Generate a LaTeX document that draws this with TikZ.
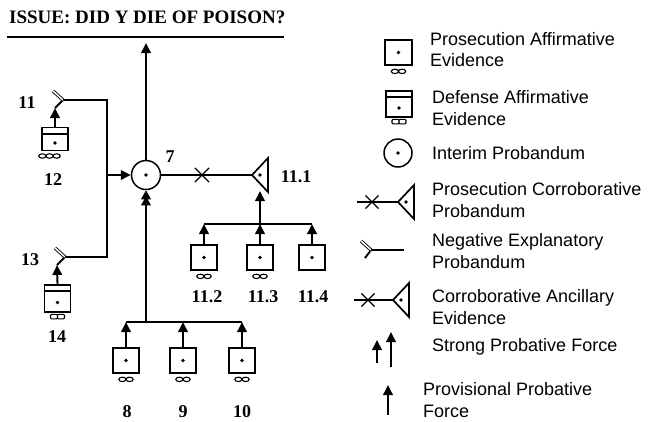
\documentclass[tikz,border=0pt]{standalone}
\usepackage{fontspec}
\setmainfont{Liberation Serif}
\newfontfamily\legfont{Liberation Sans}
\usetikzlibrary{arrows.meta,shapes.misc}
\newcommand\evdot[1]{\fill (#1) circle[radius=1.8pt];}
\newcommand\pfeet[1]{\draw[fineline] ([xshift=-3.6pt,yshift=-5.5pt]#1.south) ellipse[x radius=3.6pt,y radius=2.2pt] ([xshift=3.6pt,yshift=-5.5pt]#1.south) ellipse[x radius=3.6pt,y radius=2.2pt];}
\newcommand\dfeet[1]{\draw[fineline,rounded corners=1pt] ([xshift=-7pt,yshift=-1.5pt]#1.south) rectangle ([xshift=0pt,yshift=-6pt]#1.south) ([xshift=0pt,yshift=-1.5pt]#1.south) rectangle ([xshift=7pt,yshift=-6pt]#1.south);}
\newcommand\dband[1]{\draw[boxline] ([yshift=-7pt]#1.north west) -- ([yshift=-7pt]#1.north east); \fill ([yshift=-4pt]#1.center) circle[radius=1.8pt];}
\newcommand\corrtri[1]{\draw[boxline,line join=miter] (#1) -- ++(16,-17) -- ++(0,34) -- cycle; \fill ([xshift=8pt]#1) circle[radius=1.8pt];}
\newcommand\negsym[2]{\draw[conn] (#1) -- (#2); \draw[line width=0.9pt,double,double distance=1.5pt] (#1) -- ++(-10,-9);}
\begin{document}
\begin{tikzpicture}[x=1pt,y=-1pt,
  conn/.style={line width=1.9pt},
  boxline/.style={line width=1.7pt},
  fineline/.style={line width=1.1pt},
  arr/.style={conn,-{Triangle[length=10pt,width=9.5pt]}},
  sarr/.style={conn,-{Triangle[length=9pt,width=9.5pt,sep=-3pt]Triangle[length=9pt,width=9.5pt]}},
  evbox/.style={draw,boxline,minimum width=26pt,minimum height=25pt,inner sep=0pt},
  probcirc/.style={draw,circle,line width=1.5pt,minimum size=29pt,inner sep=0pt},
  xmark/.style={draw,cross out,line width=1.2pt,minimum width=13pt,minimum height=13pt,inner sep=0pt},
  num/.style={font=\fontsize{18}{18}\selectfont\bfseries,inner sep=0pt},
  leg/.style={font=\legfont\fontsize{18}{21.5}\selectfont,align=left,anchor=west,inner sep=0pt}
]
\useasboundingbox (0,0) rectangle (650,421);
\fill[white] (0,0) rectangle (650,421);

% title
\node[num,anchor=west,font=\fontsize{19}{19}\selectfont\bfseries] (title) at (9,17) {ISSUE: DID Y DIE OF POISON?};
\coordinate (tl) at (7,37);
\coordinate (tr) at (284,37);
\draw[conn] (tl) -- (tr);

% interim probandum 7
\node[probcirc] (c7) at (146,175) {};
\evdot{c7.center}
\node[num] (l7) at (170,157) {7};
\coordinate (top) at (146,43);
\draw[arr] (c7.north) -- (top);

% 11.1 corroborative
\coordinate (t111) at (252,175);
\corrtri{t111}
\node[num] (l111) at (296,177) {11.1};
\draw[conn] (c7.east) -- (t111);
\node[xmark] (x7) at (202,175) {};

% left side: 11, 13
\coordinate (n11) at (63,100);
\coordinate (n11l) at (55,108);
\negsym{n11}{n11l}
\coordinate (n13) at (65,257);
\coordinate (n13l) at (57,265);
\negsym{n13}{n13l}
\coordinate (c11) at (107,100);
\coordinate (c13) at (107,257);
\coordinate (jl) at (107,175);
\draw[conn] (n11) -- (c11) -- (c13) -- (n13);
\draw[arr] (jl) -- (c7.west);
\node[num] (l11) at (27,103) {11};
\node[num] (l13) at (30,260) {13};

% 12, 14 defense
\node[evbox,minimum height=23pt] (b12) at (55,139) {};
\dband{b12}
\draw[fineline] (49.5,156) ellipse[x radius=3.6pt,y radius=2.2pt] (42.3,156) ellipse[x radius=3.6pt,y radius=2.2pt] (56.7,156) ellipse[x radius=3.6pt,y radius=2.2pt];
\draw[arr] (b12.north) -- (n11l);
\node[num] (l12) at (53,180) {12};

\node[evbox,minimum height=27pt] (b14) at (57.5,298.5) {};
\dband{b14}
\dfeet{b14}
\draw[arr] (b14.north) -- (n13l);
\node[num] (l14) at (57,337) {14};

% 8, 9, 10
\coordinate (jm) at (146,322);
\coordinate (j8) at (126,322);
\coordinate (j9) at (183,322);
\coordinate (j10) at (242,322);
\draw[conn] (j8) -- (j10);
\draw[sarr] (jm) -- (c7.south);
\node[evbox] (b8) at (126,360.5) {};
\node[evbox] (b9) at (183,360.5) {};
\node[evbox] (b10) at (242,360.5) {};
\foreach \b/\j in {b8/j8,b9/j9,b10/j10}{
  \evdot{\b.center}
  \pfeet{\b}
  \draw[arr] (\b.north) -- (\j);
}
\node[num] (l8) at (127,412) {8};
\node[num] (l9) at (183,412) {9};
\node[num] (l10) at (242,412) {10};

% 11.2, 11.3, 11.4
\coordinate (k2) at (204,224);
\coordinate (k3) at (260,224);
\coordinate (k4) at (312,224);
\coordinate (tb) at (260,191);
\draw[conn] (k2) -- (k4);
\draw[arr] (k3) -- (tb);
\node[evbox] (b112) at (204,257.5) {};
\node[evbox] (b113) at (260,257.5) {};
\node[evbox] (b114) at (312,257.5) {};
\foreach \b/\j in {b112/k2,b113/k3,b114/k4}{
  \evdot{\b.center}
  \draw[arr] (\b.north) -- (\j);
}
\pfeet{b112}
\pfeet{b113}
\node[num] (l112) at (207,297) {11.2};
\node[num] (l113) at (263,297) {11.3};
\node[num] (l114) at (313,297) {11.4};

% legend
\node[evbox,minimum width=27pt] (lb1) at (398.5,52.5) {};
\evdot{lb1.center}
\pfeet{lb1}
\node[leg] (lt1) at (430,49.5) {Prosecution Affirmative\\Evidence};

\node[evbox,minimum height=26pt] (lb2) at (399,104) {};
\dband{lb2}
\dfeet{lb2}
\node[leg] (lt2) at (432,108) {Defense Affirmative\\Evidence};

\node[probcirc,minimum size=28pt] (lc) at (398,153) {};
\evdot{lc.center}
\node[leg] (lt3) at (432,153) {Interim Probandum};

\coordinate (p1a) at (357,202);
\coordinate (p1v) at (398,202);
\draw[conn] (p1a) -- (p1v);
\node[xmark,minimum width=12pt,minimum height=12pt] (p1x) at (372,202) {};
\corrtri{p1v}
\node[leg] (lt4) at (432,200) {Prosecution Corroborative\\Probandum};

\coordinate (nv) at (371,250);
\coordinate (nl) at (365,258);
\coordinate (ne) at (404,250);
\negsym{nv}{nl}
\draw[conn] (nv) -- (ne);
\node[leg] (lt5) at (432,251) {Negative Explanatory\\Probandum};

\coordinate (c1a) at (354,300);
\coordinate (c1v) at (393,300);
\draw[conn] (c1a) -- (c1v);
\node[xmark,minimum width=12pt,minimum height=12pt] (c1x) at (368,300) {};
\corrtri{c1v}
\node[leg] (lt6) at (432,307) {Corroborative Ancillary\\Evidence};

\coordinate (s1a) at (377,363);
\coordinate (s1b) at (377,340);
\coordinate (s2a) at (391,367);
\coordinate (s2b) at (391,332);
\draw[arr] (s1a) -- (s1b);
\draw[arr] (s2a) -- (s2b);
\node[leg] (lt7) at (432,347) {Strong Probative Force};

\coordinate (v1a) at (388,415);
\coordinate (v1b) at (388,385);
\draw[arr] (v1a) -- (v1b);
\node[leg] (lt8) at (423,400) {Provisional Probative\\Force};
\end{tikzpicture}
\end{document}
